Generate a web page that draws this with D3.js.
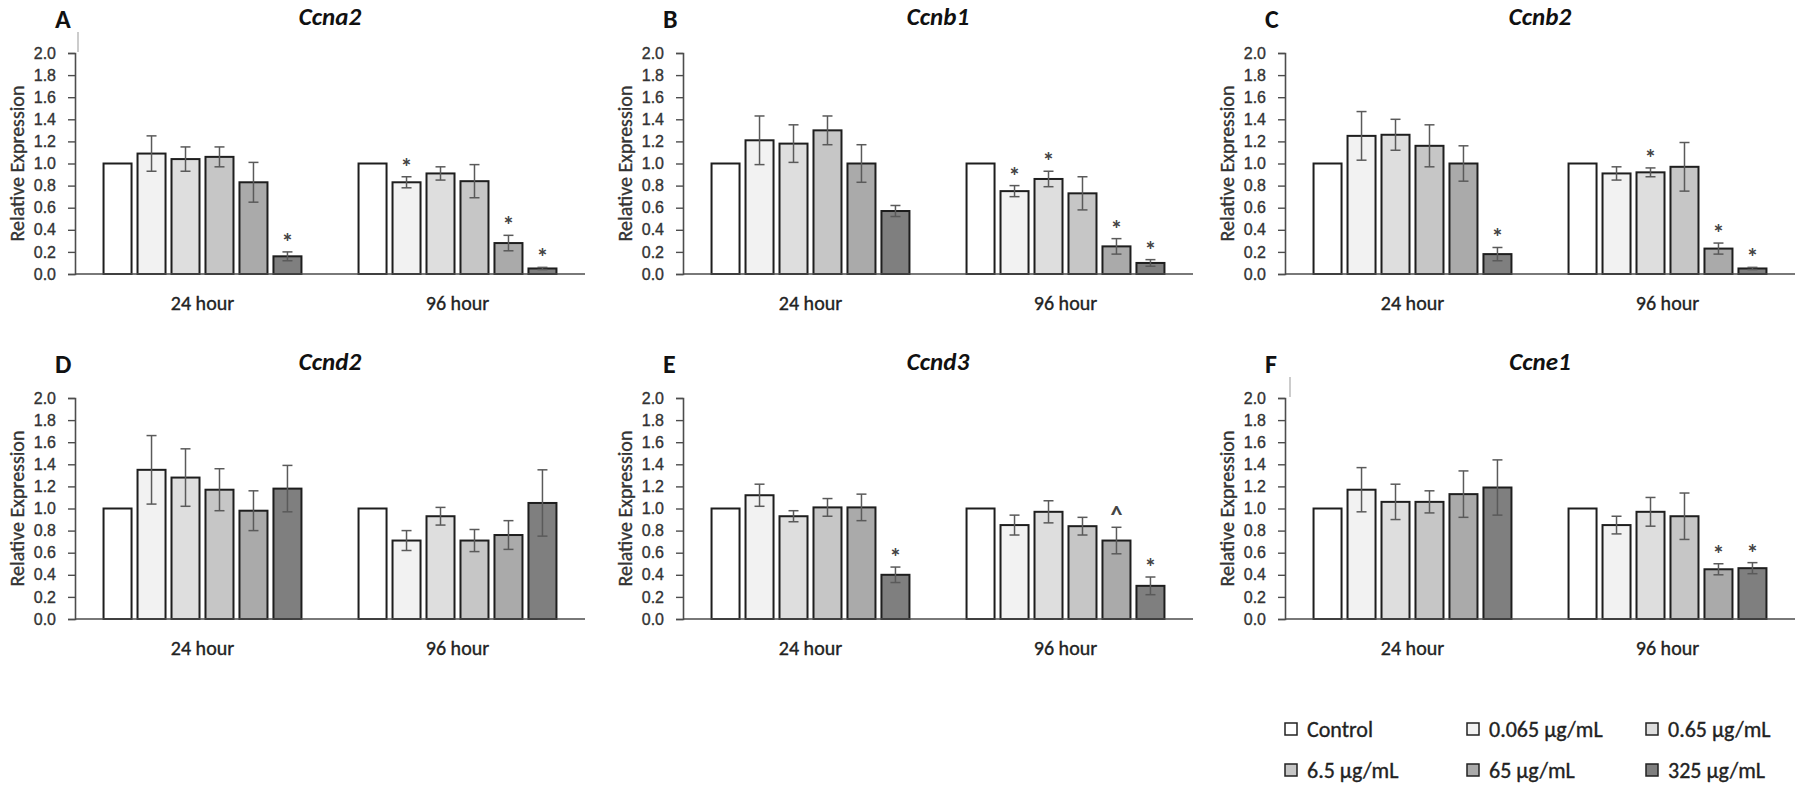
<!DOCTYPE html>
<html>
<head>
<meta charset="utf-8">
<script src="https://cdn.jsdelivr.net/npm/d3@7"></script>
<style>
  body { margin: 0; background: #fff; }
  svg { display: block; font-family: Carlito, Lato, "Noto Sans", sans-serif; }
  text.thick { stroke: currentColor; stroke-width: 0.35px; }
</style>
</head>
<body>
<svg id="chart" width="1800" height="785"></svg>
<script>
// Time points and treatment series
const timepoints = ["24 hour", "96 hour"];
const treatments = ["Control", "0.065 µg/mL", "0.65 µg/mL", "6.5 µg/mL", "65 µg/mL", "325 µg/mL"];
const yTicks = [0, 0.2, 0.4, 0.6, 0.8, 1.0, 1.2, 1.4, 1.6, 1.8, 2.0];

const panelLetters = ["A", "B", "C", "D", "E", "F"];
const genes = ["Ccna2", "Ccnb1", "Ccnb2", "Ccnd2", "Ccnd3", "Ccne1"];

// mean relative expression, one row per time point
const ccna2Mean = [[1.00, 1.09, 1.04, 1.06, 0.83, 0.16], [1.00, 0.83, 0.91, 0.84, 0.28, 0.05]];
const ccna2Err  = [[0, 0.16, 0.11, 0.09, 0.18, 0.04], [0, 0.05, 0.06, 0.15, 0.07, 0.01]];
const ccna2Sig  = [["", "", "", "", "", "*"], ["", "*", "", "", "*", "*"]];

const ccnb1Mean = [[1.00, 1.21, 1.18, 1.30, 1.00, 0.57], [1.00, 0.75, 0.86, 0.73, 0.25, 0.10]];
const ccnb1Err  = [[0, 0.22, 0.17, 0.13, 0.17, 0.05], [0, 0.05, 0.07, 0.15, 0.07, 0.03]];
const ccnb1Sig  = [["", "", "", "", "", ""], ["", "*", "*", "", "*", "*"]];

const ccnb2Mean = [[1.00, 1.25, 1.26, 1.16, 1.00, 0.18], [1.00, 0.91, 0.92, 0.97, 0.23, 0.05]];
const ccnb2Err  = [[0, 0.22, 0.14, 0.19, 0.16, 0.06], [0, 0.06, 0.04, 0.22, 0.05, 0.01]];
const ccnb2Sig  = [["", "", "", "", "", "*"], ["", "", "*", "", "*", "*"]];

const ccnd2Mean = [[1.00, 1.35, 1.28, 1.17, 0.98, 1.18], [1.00, 0.71, 0.93, 0.71, 0.76, 1.05]];
const ccnd2Err  = [[0, 0.31, 0.26, 0.19, 0.18, 0.21], [0, 0.09, 0.08, 0.10, 0.13, 0.30]];
const ccnd2Sig  = [["", "", "", "", "", ""], ["", "", "", "", "", ""]];

const ccnd3Mean = [[1.00, 1.12, 0.93, 1.01, 1.01, 0.40], [1.00, 0.85, 0.97, 0.84, 0.71, 0.30]];
const ccnd3Err  = [[0, 0.10, 0.05, 0.08, 0.12, 0.07], [0, 0.09, 0.10, 0.08, 0.12, 0.08]];
const ccnd3Sig  = [["", "", "", "", "", "*"], ["", "", "", "", "^", "*"]];

const ccne1Mean = [[1.00, 1.17, 1.06, 1.06, 1.13, 1.19], [1.00, 0.85, 0.97, 0.93, 0.45, 0.46]];
const ccne1Err  = [[0, 0.20, 0.16, 0.10, 0.21, 0.25], [0, 0.08, 0.13, 0.21, 0.05, 0.05]];
const ccne1Sig  = [["", "", "", "", "", ""], ["", "", "", "", "*", "*"]];

const means = [ccna2Mean, ccnb1Mean, ccnb2Mean, ccnd2Mean, ccnd3Mean, ccne1Mean];
const errors = [ccna2Err, ccnb1Err, ccnb2Err, ccnd2Err, ccnd3Err, ccne1Err];
const marks = [ccna2Sig, ccnb1Sig, ccnb2Sig, ccnd2Sig, ccnd3Sig, ccne1Sig];

// greyscale fills, Excel style
const fills = ["#ffffff", "#f2f2f2", "#dedede", "#c6c6c6", "#aaaaaa", "#7f7f7f"];

const svg = d3.select("#chart");

// panel geometry
const colX = [75, 683, 1285];
const rowY = [53, 398];
const plotW = 510, plotH = 221;

const y = d3.scaleLinear().domain([0, 2]).range([plotH, 0]);
const x0 = d3.scaleBand().domain(timepoints).range([0, plotW]);
const x1 = d3.scaleBand().domain(treatments)
    .range([0, x0.bandwidth()])
    .paddingInner(0.176)
    .paddingOuter(0.84);

genes.forEach((gene, p) => {
  const g = svg.append("g")
      .attr("transform", `translate(${colX[p % 3]},${rowY[Math.floor(p / 3)]})`);

  // panel letter and gene title
  g.append("text")
      .attr("x", -20).attr("y", -25)
      .attr("font-size", 26).attr("font-weight", "bold")
      .attr("fill", "#111")
      .text(panelLetters[p]);
  g.append("text")
      .attr("x", plotW / 2).attr("y", -28)
      .attr("text-anchor", "middle")
      .attr("font-size", 25).attr("font-weight", "bold").attr("font-style", "italic")
      .attr("fill", "#111")
      .text(gene);

  // y axis
  const yAxis = g.append("g")
      .call(d3.axisLeft(y).tickValues(yTicks).tickSize(7).tickPadding(12).tickFormat(d3.format(".1f")));
  yAxis.select(".domain").attr("stroke", "#4d4d4d").attr("stroke-width", 1.6);
  yAxis.selectAll(".tick line").attr("stroke", "#4d4d4d").attr("stroke-width", 1.4);
  yAxis.selectAll(".tick text")
      .attr("class", "thick")
      .attr("font-size", 16).attr("fill", "#333").attr("color", "#333")
      .attr("font-family", null);

  g.append("text")
      .attr("class", "thick")
      .attr("transform", `translate(-58,${plotH / 2}) rotate(-90)`)
      .attr("text-anchor", "middle")
      .attr("dominant-baseline", "central")
      .attr("font-size", 20).attr("fill", "#333").attr("color", "#333")
      .text("Relative Expression");

  // bars
  const rows = [];
  timepoints.forEach((t, ti) => {
    treatments.forEach((s, si) => {
      rows.push({ t, s, si, v: means[p][ti][si], e: errors[p][ti][si], m: marks[p][ti][si] });
    });
  });

  const bar = g.selectAll(".bar").data(rows).join("g")
      .attr("transform", d => `translate(${x0(d.t) + x1(d.s)},0)`);

  bar.append("rect")
      .attr("y", d => y(d.v))
      .attr("width", x1.bandwidth())
      .attr("height", d => y(0) - y(d.v))
      .attr("fill", d => fills[d.si])
      .attr("stroke", "#1e1e1e")
      .attr("stroke-width", 2);

  // error bars
  const cx = x1.bandwidth() / 2;
  const eb = bar.filter(d => d.e > 0);
  eb.append("line")
      .attr("x1", cx).attr("x2", cx)
      .attr("y1", d => y(d.v + d.e)).attr("y2", d => y(d.v - d.e))
      .attr("stroke", "#5a5a5a").attr("stroke-width", 1.5);
  eb.selectAll(".cap").data(d => [d.v + d.e, d.v - d.e]).join("line")
      .attr("x1", cx - 5).attr("x2", cx + 5)
      .attr("y1", v => y(v)).attr("y2", v => y(v))
      .attr("stroke", "#5a5a5a").attr("stroke-width", 1.5);

  // significance marks
  bar.filter(d => d.m).append("text")
      .attr("x", cx)
      .attr("y", d => y(d.v + d.e) - (d.m === "*" ? 2 : 4))
      .attr("text-anchor", "middle")
      .attr("font-size", 24).attr("font-weight", "bold").attr("fill", "#444")
      .text(d => d.m);

  // x axis baseline and group labels
  g.append("line")
      .attr("x1", 0).attr("x2", plotW)
      .attr("y1", y(0)).attr("y2", y(0))
      .attr("stroke", "#4d4d4d").attr("stroke-width", 1.6);
  g.selectAll(".grp").data(timepoints).join("text")
      .attr("class", "thick")
      .attr("x", d => x0(d) + x0.bandwidth() / 2)
      .attr("y", plotH + 36)
      .attr("text-anchor", "middle")
      .attr("font-size", 20).attr("fill", "#222").attr("color", "#222")
      .text(d => d);
});

// small scan marks above the A and F axes
svg.append("line").attr("x1", 78).attr("x2", 78).attr("y1", 32).attr("y2", 52)
    .attr("stroke", "#aaa").attr("stroke-width", 1.2);
svg.append("line").attr("x1", 1290).attr("x2", 1290).attr("y1", 377).attr("y2", 397)
    .attr("stroke", "#aaa").attr("stroke-width", 1.2);

// legend
const legX = [1285, 1467, 1646];
const legY = [729, 770];
const leg = svg.selectAll(".leg").data(treatments).join("g")
    .attr("transform", (d, i) => `translate(${legX[i % 3]},${legY[Math.floor(i / 3)]})`);
leg.append("rect")
    .attr("x", 0).attr("y", -6).attr("width", 12).attr("height", 12)
    .attr("fill", (d, i) => fills[i])
    .attr("stroke", "#222").attr("stroke-width", 1.5);
leg.append("text")
    .attr("class", "thick")
    .attr("x", 22).attr("y", 0)
    .attr("dominant-baseline", "central")
    .attr("font-size", 22).attr("fill", "#222").attr("color", "#222")
    .text(d => d);
</script>
</body>
</html>
